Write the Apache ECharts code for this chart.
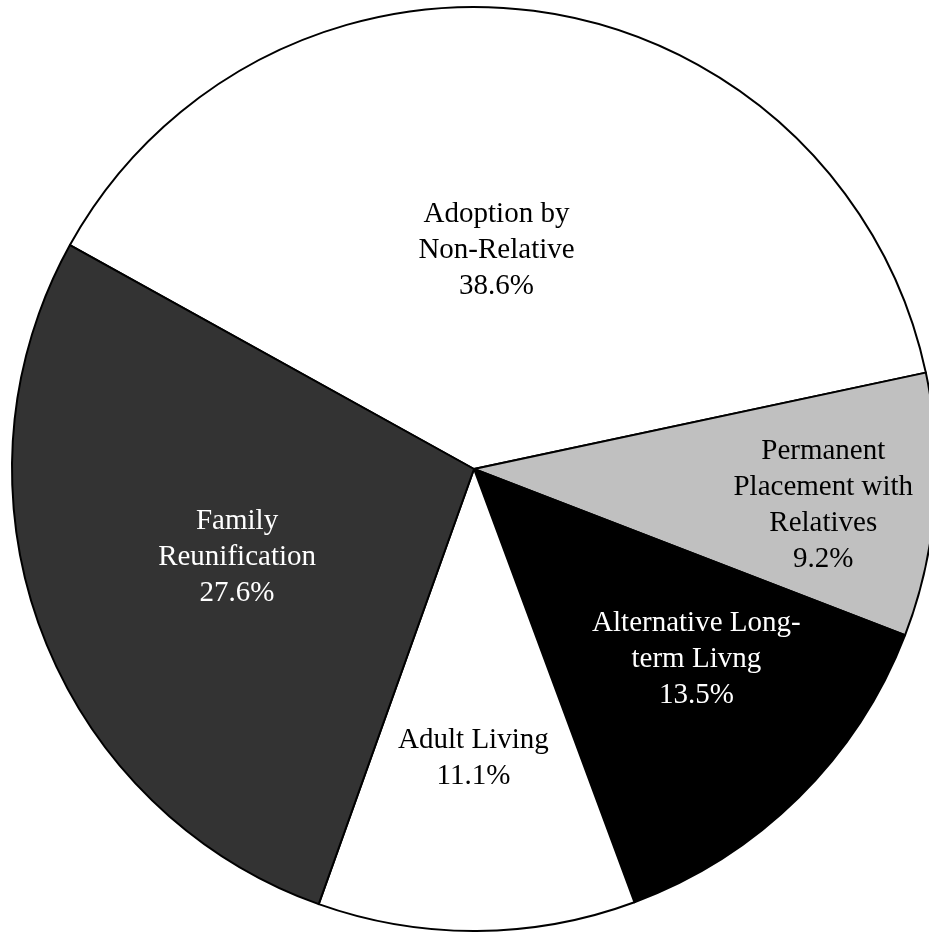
<!DOCTYPE html>
<html>
<head>
<meta charset="utf-8">
<script src="https://cdn.jsdelivr.net/npm/echarts@6/dist/echarts.min.js"></script>
<style>
  html, body { margin: 0; padding: 0; background: #ffffff; }
  #chart { width: 929px; height: 932px; }
</style>
</head>
<body>
<div id="chart"></div>
<script>
// Data
const categories = [
  'Adoption by\nNon-Relative',
  'Permanent\nPlacement with\nRelatives',
  'Alternative Long-\nterm Livng',
  'Adult Living',
  'Family\nReunification'
];
const percentages = [38.6, 9.2, 13.5, 11.1, 27.6];

// Styles (kept separate from data)
const sliceColors = ['#ffffff', '#c0c0c0', '#000000', '#ffffff', '#333333'];
const labelColors = ['#000000', '#000000', '#ffffff', '#000000', '#ffffff'];
// label nudges from the default "inside" position (best-fit placement)
const labelNudge = [[-12, 13], [116, 18], [58, 24], [-2, 55], [-18, 6]];

const chart = echarts.init(document.getElementById('chart'), null, { renderer: 'canvas' });

const seriesData = categories.map((name, i) => ({
  name: name,
  value: percentages[i],
  itemStyle: { color: sliceColors[i] },
  label: { color: labelColors[i] }
}));

chart.setOption({
  backgroundColor: '#ffffff',
  animation: false,
  series: [{
    type: 'pie',
    center: [474, 469],
    radius: 462,
    startAngle: 151,
    clockwise: true,
    avoidLabelOverlap: false,
    itemStyle: { borderColor: '#000000', borderWidth: 2 },
    label: {
      show: true,
      position: 'inside',
      formatter: function (p) { return p.name + '\n' + p.value.toFixed(1) + '%'; },
      fontFamily: '"Liberation Serif", "Times New Roman", serif',
      fontSize: 29,
      lineHeight: 36,
      align: 'center'
    },
    labelLine: { show: false },
    labelLayout: function (params) {
      const n = labelNudge[params.dataIndex];
      return { dx: n[0], dy: n[1] };
    },
    emphasis: { disabled: true },
    data: seriesData
  }]
});
</script>
</body>
</html>
